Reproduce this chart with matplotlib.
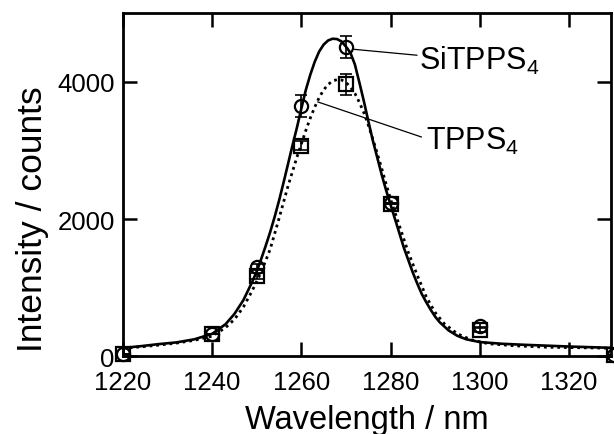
import matplotlib
matplotlib.use("Agg")
import matplotlib.pyplot as plt

plt.rcParams['font.family'] = ['Liberation Sans', 'DejaVu Sans']
plt.rcParams['mathtext.fontset'] = 'custom'
plt.rcParams['mathtext.rm'] = 'Liberation Sans'
plt.rcParams['mathtext.it'] = 'Liberation Sans:italic'

# --- DATA --------------------------------------------------------- #
wl_pts = [1220, 1240, 1250, 1260, 1270, 1280, 1300, 1330]
si_pts = [30, 330, 1300, 3640, 4500, 2230, 450, 20]
si_err = [0, 0, 40, 160, 160, 0, 40, 0]
tp_pts = [30, 330, 1170, 3070, 3960, 2220, 390, 20]
tp_err = [0, 0, 40, 60, 150, 0, 40, 0]

# fitted curve, SiTPPS4 (solid)
wl_fit_si = [1220, 1224, 1228, 1232, 1236, 1240, 1243, 1245, 1247, 1249,
             1250, 1251, 1252, 1253, 1254, 1255, 1256, 1257, 1258, 1259,
             1260, 1261, 1262, 1263, 1264, 1265, 1266, 1267, 1268, 1269,
             1270, 1271, 1272, 1273, 1274, 1275, 1276, 1277, 1278, 1279,
             1280, 1281, 1282, 1283, 1284, 1285, 1286, 1287, 1288, 1289,
             1290, 1291, 1293, 1295, 1297, 1300, 1305, 1310, 1320, 1330]
si_fit = [125, 150, 180, 205, 250, 330, 470, 620, 820, 1090,
          1240, 1420, 1610, 1810, 2030, 2270, 2530, 2800, 3070, 3330,
          3610, 3880, 4100, 4290, 4440, 4540, 4600, 4625, 4620, 4585,
          4510, 4420, 4250, 3990, 3720, 3430, 3150, 2900, 2650, 2420,
          2210, 2000, 1790, 1580, 1400, 1220, 1060, 910, 790, 680,
          580, 500, 380, 300, 250, 210, 185, 170, 145, 125]

# fitted curve, TPPS4 (dotted)
wl_fit_tp = [1220, 1224, 1228, 1232, 1236, 1240, 1243, 1245, 1247, 1249,
             1251, 1253, 1255, 1257, 1259, 1261, 1262, 1263, 1264, 1265,
             1266, 1267, 1268, 1269, 1270, 1271, 1272, 1273, 1274, 1275,
             1276, 1277, 1278, 1279, 1280, 1282, 1284, 1286, 1288, 1290,
             1292, 1295, 1298, 1302, 1308, 1315, 1330]
tp_fit = [120, 140, 165, 195, 235, 295, 420, 540, 720, 960,
          1230, 1560, 2010, 2480, 2900, 3290, 3470, 3630, 3770, 3880,
          3960, 4010, 4030, 4025, 3990, 3920, 3830, 3700, 3550, 3370,
          3170, 2960, 2740, 2510, 2290, 1900, 1510, 1180, 870, 640,
          480, 330, 245, 185, 155, 135, 120]

# --- PLOT --------------------------------------------------------- #
fig = plt.figure(figsize=(6.14, 4.35), dpi=100)
ax = fig.add_axes([0.2003, 0.1782, 0.7953, 0.7897])

ax.plot(wl_fit_si, si_fit, color="black", lw=1.9, zorder=2)
ax.plot(wl_fit_tp, tp_fit, color="black", lw=2.0, ls=(0, (1, 1.4)), zorder=2)

ax.errorbar(wl_pts, si_pts, yerr=si_err, fmt='none', ecolor="black",
            elinewidth=1.2, capsize=4, capthick=1.2, zorder=3)
ax.errorbar(wl_pts, tp_pts, yerr=tp_err, fmt='none', ecolor="black",
            elinewidth=1.2, capsize=4, capthick=1.2, zorder=3)
ax.plot(wl_pts, si_pts, 'o', ms=9.5, mfc='none', mec="black", mew=1.6,
        clip_on=False, zorder=4)
ax.plot(wl_pts, tp_pts, 's', ms=9.5, mfc='none', mec="black", mew=1.6,
        clip_on=False, zorder=5)

# labels with leader lines
ax.plot([1271.6, 1285.9], [4472, 4385], color="black", lw=0.9)
ax.text(1286.3, 4180, "SiTPPS$_4$", fontsize=22, ha='left', va='baseline')
ax.plot([1263.7, 1286.9], [3705, 3195], color="black", lw=0.9)
ax.text(1288.0, 3025, "TPPS$_4$", fontsize=22, ha='left', va='baseline')

ax.set_xlim(1220, 1329.5)
ax.set_ylim(0, 5000)
ax.set_xticks([1220, 1240, 1260, 1280, 1300, 1320])
ax.set_yticks([0, 2000, 4000])

for s in ax.spines.values():
    s.set_linewidth(2.0)
ax.tick_params(direction='in', length=10, width=1.8, top=True, right=True,
               labelsize=18.5)
ax.tick_params(axis='x', pad=10)
ax.tick_params(axis='y', pad=6)

ax.set_xlabel("Wavelength / nm", fontsize=23.5, labelpad=7)
ax.set_ylabel("Intensity / counts", fontsize=25.5, va='center')
ax.yaxis.set_label_coords(-0.185, 0.402)

fig.savefig("out.png", dpi=100)
